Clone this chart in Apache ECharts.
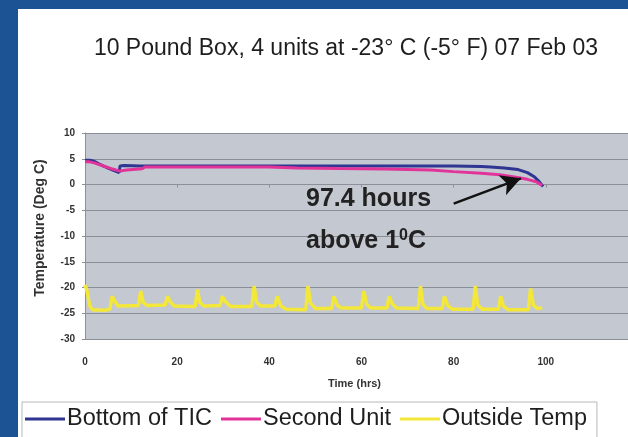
<!DOCTYPE html>
<html>
<head>
<meta charset="utf-8">
<script src="https://cdn.jsdelivr.net/npm/echarts@6/dist/echarts.min.js"></script>
<style>
html,body{margin:0;padding:0;background:#1b5394;}
#frame{position:absolute;left:18px;top:9px;width:610px;height:428px;background:#ffffff;}
#c{position:absolute;left:0;top:0;width:628px;height:437px;}
</style>
</head>
<body>
<div id="frame"></div>
<div id="c"></div>
<script>
const titleText = '10 Pound Box, 4 units at -23° C (-5° F) 07 Feb 03';
const seriesNames = ['Bottom of TIC', 'Second Unit', 'Outside Temp'];
const xTicks = [0, 20, 40, 60, 80, 100];
const yTicks = [-30, -25, -20, -15, -10, -5, 0, 5, 10];
const yAxisTitle = 'Temperature (Deg C)';
const xAxisTitle = 'Time (hrs)';

const blueHours = [0, 1, 2, 3, 5, 7.4, 7.6, 8.5, 12, 20, 30, 40, 50, 60, 70, 80, 86, 88, 91, 94, 96, 97.5, 98.5, 99.4];
const blueTemp  = [4.7, 4.7, 4.5, 4.0, 3.2, 2.3, 3.6, 3.7, 3.6, 3.6, 3.6, 3.6, 3.6, 3.6, 3.6, 3.6, 3.5, 3.4, 3.2, 2.9, 2.3, 1.5, 0.6, -0.4];

const pinkHours = [0, 1, 2, 4, 6, 7.5, 9, 12.4, 13, 20, 30, 40, 46, 55, 65, 75, 80, 86, 90, 93.5, 96, 98, 99.2];
const pinkTemp  = [4.4, 4.4, 4.2, 3.6, 3.0, 2.6, 2.8, 3.05, 3.4, 3.4, 3.4, 3.4, 3.2, 3.1, 3.0, 2.8, 2.5, 2.2, 1.9, 1.4, 1.0, 0.5, -0.2];

const outsideHours = [0, 0.4, 1.0, 1.6, 4.5, 5.4, 5.9, 6.4, 7.2, 11.6, 12.1, 12.6, 13.4, 17.4, 17.9, 18.5, 19.4, 23.9, 24.4, 24.9, 25.8, 29.3, 29.8, 30.4, 31.6, 36.2, 36.7, 37.2, 38.1, 41.2, 41.7, 42.5, 43.6, 47.9, 48.4, 48.9, 50.0, 53.5, 54.0, 54.7, 55.6, 60.0, 60.5, 61.1, 62.0, 65.5, 66.0, 66.7, 67.6, 72.3, 72.8, 73.3, 74.2, 77.5, 78.0, 78.7, 79.7, 84.2, 84.7, 85.2, 86.2, 89.7, 90.2, 90.8, 91.8, 96.2, 96.7, 97.3, 98.2, 99.2];
const outsideTemp  = [-19.5, -20.5, -23.5, -24.3, -24.4, -24.2, -21.7, -22.6, -23.6, -23.5, -20.7, -22.8, -23.5, -23.4, -21.7, -22.8, -23.6, -23.7, -20.4, -22.9, -23.6, -23.5, -21.7, -22.7, -23.7, -23.7, -19.7, -22.8, -23.6, -23.6, -21.7, -23.6, -24.2, -24.3, -19.7, -23.0, -24.1, -24.1, -21.7, -23.4, -24.0, -24.0, -20.7, -23.2, -24.0, -24.0, -21.7, -23.2, -24.0, -24.1, -19.7, -23.2, -24.1, -24.1, -21.7, -23.5, -24.2, -24.2, -19.7, -23.4, -24.2, -24.2, -21.7, -23.6, -24.3, -24.3, -20.2, -23.4, -24.1, -23.9];

const arrowFrom = [80, -3.7];
const arrowTo = [94.6, 1.2];

function zip(a, b) { return a.map((v, i) => [v, b[i]]); }

const colors = ['#2e3592', '#e2339a', '#f3e83a'];
const chart = echarts.init(document.getElementById('c'), null, {renderer: 'canvas'});
const FONT = 'Liberation Sans, Arial, sans-serif';

chart.setOption({
  animation: false,
  backgroundColor: 'transparent',
  title: {
    text: titleText,
    left: 341, top: 32, textAlign: 'center',
    textStyle: {fontFamily: FONT, fontSize: 23, fontWeight: 'normal', color: '#1e1e1e'}
  },
  grid: {left: 85, width: 553, top: 133, height: 206, show: true, backgroundColor: '#c4c8d0', borderWidth: 0,
    containLabel: false, outerBoundsMode: 'none'},
  xAxis: {
    type: 'value', min: 0, max: 120, interval: 20,
    name: xAxisTitle, nameLocation: 'middle', nameGap: 39,
    nameTextStyle: {fontFamily: FONT, fontSize: 11, fontWeight: 'bold', color: '#333', padding: [0, 0, 0, -14]},
    axisLine: {show: true, lineStyle: {color: '#8c9098', width: 1}},
    axisTick: {show: true, length: 3, lineStyle: {color: '#8c9098'}},
    axisLabel: {fontFamily: FONT, fontSize: 10, fontWeight: 'bold', color: '#333', margin: 18,
      formatter: v => (xTicks.indexOf(v) >= 0 ? String(v) : '')},
    splitLine: {show: false}
  },
  yAxis: {
    type: 'value', min: -30, max: 10, interval: 5,
    axisLine: {show: true, lineStyle: {color: '#8c9098', width: 1}},
    axisTick: {show: true, length: 3, lineStyle: {color: '#8c9098'}},
    axisLabel: {fontFamily: FONT, fontSize: 10, fontWeight: 'bold', color: '#333', margin: 10,
      formatter: v => (yTicks.indexOf(v) >= 0 ? String(v) : '')},
    splitLine: {show: true, lineStyle: {color: '#8a8e96', width: 1}}
  },
  legend: {
    left: 22, top: 402,
    data: seriesNames,
    icon: 'rect', itemWidth: 40, itemHeight: 3, itemGap: 9,
    borderColor: '#b8b8b8', borderWidth: 1, padding: [5, 10, 14, 3],
    backgroundColor: '#ffffff',
    textStyle: {fontFamily: FONT, fontSize: 23.5, color: '#1e1e1e', padding: [0, 0, 0, -3]}
  },
  graphic: [
    {type: 'text', x: 40, y: 228, rotation: Math.PI / 2, z: 100,
      style: {text: yAxisTitle, font: 'bold 14px Liberation Sans, Arial, sans-serif', fill: '#333',
        textAlign: 'center', textVerticalAlign: 'middle'}},
    {type: 'text', left: 306, top: 187, z: 100,
      style: {text: '97.4 hours', font: 'bold 25px Liberation Sans, Arial, sans-serif', fill: '#222'}},
    {type: 'text', left: 306, top: 228, z: 100,
      style: {text: 'above 1{s|0}C', font: 'bold 25px Liberation Sans, Arial, sans-serif', fill: '#222',
        rich: {s: {fontSize: 16, fontWeight: 'bold', verticalAlign: 'top', fontFamily: FONT, fill: '#222', padding: [0, 0, 10, 0]}}}}
  ],
  series: [
    {name: seriesNames[0], type: 'line', data: zip(blueHours, blueTemp), showSymbol: false,
      lineStyle: {color: colors[0], width: 3}, itemStyle: {color: colors[0]}, z: 3},
    {name: seriesNames[1], type: 'line', data: zip(pinkHours, pinkTemp), showSymbol: false,
      lineStyle: {color: colors[1], width: 3}, itemStyle: {color: colors[1]}, z: 4,
      markLine: {silent: true, symbol: ['none', 'arrow'], symbolSize: [16, 20], label: {show: false},
        lineStyle: {color: '#111', width: 2.5, type: 'solid'},
        data: [[{coord: arrowFrom}, {coord: arrowTo}]]}},
    {name: seriesNames[2], type: 'line', data: zip(outsideHours, outsideTemp), showSymbol: false,
      lineStyle: {color: colors[2], width: 3.5}, itemStyle: {color: colors[2]}, z: 2}
  ]
});
</script>
</body>
</html>
